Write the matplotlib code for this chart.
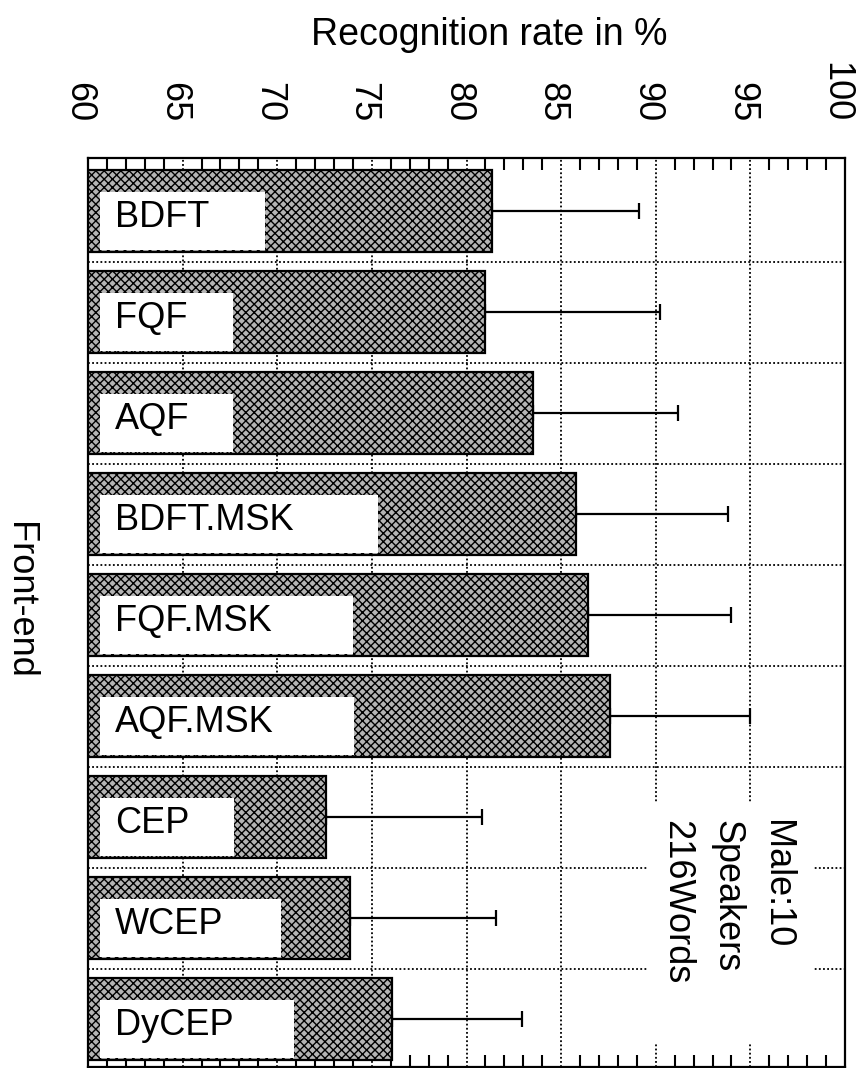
import matplotlib
matplotlib.use("Agg")
import matplotlib.pyplot as plt
import matplotlib.transforms as mtransforms
from matplotlib.patches import Rectangle
from matplotlib.ticker import FixedLocator, MultipleLocator

plt.rcParams['font.family'] = ['Liberation Sans', 'DejaVu Sans']
plt.rcParams['hatch.linewidth'] = 1.0

# ---- data ----
front_ends = ["BDFT", "FQF", "AQF", "BDFT.MSK", "FQF.MSK", "AQF.MSK", "CEP", "WCEP", "DyCEP"]
rates = [81.35, 81.0, 83.5, 85.8, 86.4, 87.6, 72.55, 73.85, 76.05]
upper = [89.1, 90.2, 91.15, 93.8, 94.0, 95.0, 80.8, 81.55, 82.95]
x_ticks = [60, 65, 70, 75, 80, 85, 90, 95, 100]

# ---- style / layout ----
label_box_end = [69.35, 67.65, 67.65, 75.35, 74.0, 74.05, 67.7, 70.2, 70.9]
DPI = 100
fig = plt.figure(figsize=(8.59, 10.68), dpi=DPI)
ax = fig.add_axes([88/859, 1 - 1067/1068, (845-88)/859, (1067-158)/1068])

ypos = list(range(len(front_ends)))
err_plus = [u - r for u, r in zip(upper, rates)]

ax.set_xlim(60, 100)
ax.set_ylim(8.475, -0.525)

# error bars (one-sided)
ax.errorbar(rates, ypos, xerr=[[0]*len(rates), err_plus], fmt='none',
            ecolor='black', elinewidth=1.6, capsize=6.0, capthick=1.6, zorder=2)

# bars
ax.barh(ypos, [r - 60 for r in rates], left=60, height=0.81,
        facecolor='#b4b4b4', edgecolor='black', linewidth=1.6,
        hatch='xxxx', zorder=3)

# white label boxes and labels
box_left = 60.63
for i, (name, bend) in enumerate(zip(front_ends, label_box_end)):
    ax.add_patch(Rectangle((box_left, i - 0.19), bend - box_left, 0.575,
                           facecolor='white', edgecolor='none', zorder=4))
    ax.text(61.43, i + 0.06, name, fontsize=26, ha='left', va='center', zorder=5)

# grid
ax.xaxis.set_major_locator(FixedLocator(x_ticks))
ax.xaxis.set_minor_locator(MultipleLocator(1))
ax.yaxis.set_major_locator(FixedLocator([]))
ax.yaxis.set_minor_locator(FixedLocator([i + 0.5 for i in range(len(front_ends) - 1)]))
ax.set_axisbelow(True)
ax.grid(True, which='major', axis='x', color='black', linestyle=(0, (1.0, 1.3)), linewidth=1.3)
ax.grid(True, which='minor', axis='y', color='black', linestyle=(0, (1.0, 1.3)), linewidth=1.3)

# ticks
ax.xaxis.tick_top()
ax.tick_params(axis='x', which='major', direction='in', length=0, top=True, bottom=True,
               labeltop=True, labelbottom=False, labelsize=26, labelrotation=-90, pad=26)
ax.tick_params(axis='x', which='minor', direction='in', length=8.5, width=1.5, top=True, bottom=True)
ax.tick_params(axis='y', which='both', length=0, left=False, right=False)
offset = mtransforms.ScaledTranslation(-9/DPI, 0, fig.dpi_scale_trans)
for lab in ax.get_xticklabels():
    lab.set_va('bottom')
    lab.set_ha('center')
    lab.set_transform(lab.get_transform() + offset)

for s in ax.spines.values():
    s.set_linewidth(1.6)

# annotation box
ax.add_patch(Rectangle((89.53, 5.86), 98.3 - 89.53, 8.24 - 5.86,
                       facecolor='white', edgecolor='none', zorder=1))
ax.text(93.75, 6.03, "Male:10\nSpeakers\n216Words", rotation=-90, fontsize=26,
        ha='center', va='top', multialignment='left', linespacing=1.55, zorder=5)

# titles
fig.text(489/859, 1 - 35/1068, "Recognition rate in %", fontsize=27, ha='center', va='center')
fig.text(19/859, 1 - 600/1068, "Front-end", fontsize=26, rotation=-90, ha='center', va='center')

fig.savefig("out.png", dpi=DPI)
